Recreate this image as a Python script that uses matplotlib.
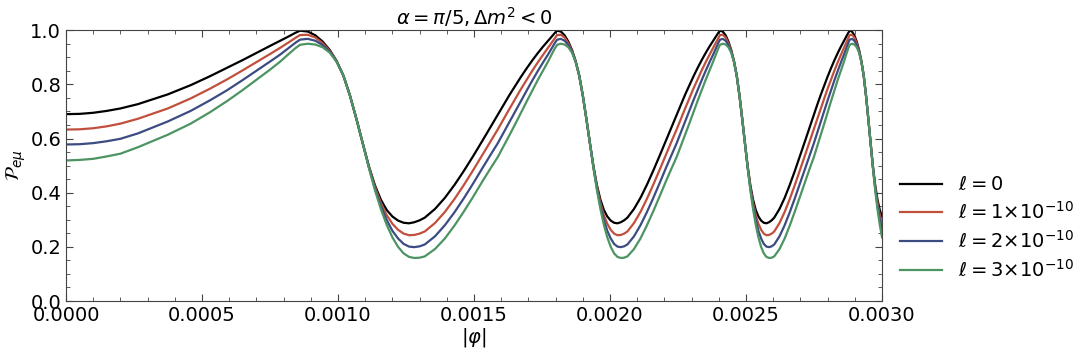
import numpy as np
import matplotlib
matplotlib.use("Agg")
import matplotlib.pyplot as plt
from matplotlib.ticker import MultipleLocator, FormatStrFormatter

# |phi| sample points, in units of 1e-4
phi = [
    0.0, 0.5, 1.0, 1.5, 2.0, 2.646, 3.742, 4.583, 5.292, 5.916, 6.481, 7.0,
    7.483, 7.874, 8.185, 8.426,
    8.602, 8.888, 9.165, 9.434, 9.695, 9.950, 10.198, 10.440, 10.677, 10.909,
    11.136, 11.358, 11.576, 11.790, 12.000, 12.207, 12.410, 12.610, 12.806, 13.000,
    13.191, 13.565, 13.928, 14.283, 14.629, 14.967, 15.297, 15.620, 15.875, 16.093,
    16.310, 16.523, 16.733, 16.941, 17.146, 17.349, 17.550, 17.720, 17.861, 17.972,
    18.055, 18.193, 18.330, 18.466, 18.601, 18.735, 18.868, 19.000, 19.131, 19.261,
    19.391, 19.519, 19.647, 19.774, 19.900, 20.025, 20.149, 20.273, 20.396, 20.518,
    20.640, 20.881, 21.119, 21.354, 21.587, 21.817, 22.045, 22.271, 22.450, 22.605,
    22.760, 22.913, 23.065, 23.216, 23.367, 23.516, 23.664, 23.791, 23.896, 23.979,
    24.042, 24.145, 24.249, 24.352, 24.454, 24.556, 24.658, 24.759, 24.860, 24.960,
    25.060, 25.159, 25.259, 25.357, 25.456, 25.554, 25.652, 25.749, 25.846, 25.942,
    26.038, 26.230, 26.420, 26.608, 26.796, 26.981, 27.166, 27.350, 27.495, 27.622,
    27.749, 27.875, 28.000, 28.125, 28.249, 28.373, 28.496, 28.601, 28.688, 28.758,
    28.810, 28.896, 28.983, 29.069, 29.155, 29.240, 29.326, 29.411, 29.496, 29.580,
    29.665, 29.749, 29.833, 29.917, 30.000,
]

p_l0 = [
    0.690, 0.691, 0.695, 0.702, 0.711, 0.727, 0.763, 0.797, 0.830, 0.861, 0.889, 0.916,
    0.941, 0.961, 0.977, 0.990,
    0.998, 0.995, 0.981, 0.958, 0.927, 0.886, 0.832, 0.758, 0.672, 0.582,
    0.497, 0.427, 0.374, 0.336, 0.312, 0.297, 0.289, 0.287, 0.291, 0.298,
    0.308, 0.340, 0.381, 0.429, 0.481, 0.535, 0.590, 0.645, 0.688, 0.726,
    0.762, 0.796, 0.829, 0.860, 0.889, 0.916, 0.941, 0.961, 0.977, 0.990,
    0.998, 0.995, 0.981, 0.958, 0.927, 0.886, 0.832, 0.758, 0.672, 0.582,
    0.497, 0.427, 0.374, 0.336, 0.312, 0.297, 0.289, 0.287, 0.291, 0.298,
    0.308, 0.340, 0.381, 0.429, 0.481, 0.535, 0.590, 0.645, 0.688, 0.726,
    0.762, 0.796, 0.829, 0.860, 0.889, 0.916, 0.941, 0.961, 0.977, 0.990,
    0.998, 0.995, 0.981, 0.958, 0.927, 0.886, 0.832, 0.758, 0.672, 0.582,
    0.497, 0.427, 0.374, 0.336, 0.312, 0.297, 0.289, 0.287, 0.291, 0.298,
    0.308, 0.340, 0.381, 0.429, 0.481, 0.535, 0.590, 0.645, 0.688, 0.726,
    0.762, 0.796, 0.829, 0.860, 0.889, 0.916, 0.941, 0.961, 0.977, 0.990,
    0.998, 0.995, 0.981, 0.958, 0.927, 0.886, 0.832, 0.758, 0.672, 0.582,
    0.497, 0.427, 0.374, 0.336, 0.312,
]

p_l1 = [
    0.633, 0.634, 0.638, 0.645, 0.655, 0.673, 0.711, 0.748, 0.784, 0.818, 0.851, 0.882,
    0.911, 0.935, 0.955, 0.971,
    0.982, 0.983, 0.973, 0.952, 0.924, 0.885, 0.832, 0.758, 0.672, 0.582,
    0.495, 0.421, 0.362, 0.317, 0.285, 0.263, 0.249, 0.243, 0.244, 0.249,
    0.257, 0.288, 0.329, 0.377, 0.429, 0.483, 0.538, 0.592, 0.634, 0.673,
    0.711, 0.748, 0.784, 0.818, 0.851, 0.882, 0.911, 0.935, 0.955, 0.971,
    0.982, 0.983, 0.973, 0.952, 0.924, 0.885, 0.832, 0.758, 0.672, 0.582,
    0.495, 0.421, 0.362, 0.317, 0.285, 0.263, 0.249, 0.243, 0.244, 0.249,
    0.257, 0.288, 0.329, 0.377, 0.429, 0.483, 0.538, 0.592, 0.634, 0.673,
    0.711, 0.748, 0.784, 0.818, 0.851, 0.882, 0.911, 0.935, 0.955, 0.971,
    0.982, 0.983, 0.973, 0.952, 0.924, 0.885, 0.832, 0.758, 0.672, 0.582,
    0.495, 0.421, 0.362, 0.317, 0.285, 0.263, 0.249, 0.243, 0.244, 0.249,
    0.257, 0.288, 0.329, 0.377, 0.429, 0.483, 0.538, 0.592, 0.634, 0.673,
    0.711, 0.748, 0.784, 0.818, 0.851, 0.882, 0.911, 0.935, 0.955, 0.971,
    0.982, 0.983, 0.973, 0.952, 0.924, 0.885, 0.832, 0.758, 0.672, 0.582,
    0.495, 0.421, 0.362, 0.317, 0.285,
]

p_l2 = [
    0.578, 0.579, 0.583, 0.590, 0.599, 0.619, 0.663, 0.702, 0.741, 0.778, 0.815, 0.850,
    0.883, 0.910, 0.934, 0.953,
    0.965, 0.968, 0.961, 0.945, 0.921, 0.884, 0.832, 0.758, 0.672, 0.582,
    0.493, 0.415, 0.351, 0.299, 0.259, 0.231, 0.211, 0.201, 0.199, 0.202,
    0.209, 0.239, 0.280, 0.328, 0.380, 0.434, 0.489, 0.542, 0.583, 0.623,
    0.663, 0.702, 0.741, 0.778, 0.815, 0.850, 0.883, 0.910, 0.934, 0.953,
    0.965, 0.968, 0.961, 0.945, 0.921, 0.884, 0.832, 0.758, 0.672, 0.582,
    0.493, 0.415, 0.351, 0.299, 0.259, 0.231, 0.211, 0.201, 0.199, 0.202,
    0.209, 0.239, 0.280, 0.328, 0.380, 0.434, 0.489, 0.542, 0.583, 0.623,
    0.663, 0.702, 0.741, 0.778, 0.815, 0.850, 0.883, 0.910, 0.934, 0.953,
    0.965, 0.968, 0.961, 0.945, 0.921, 0.884, 0.832, 0.758, 0.672, 0.582,
    0.493, 0.415, 0.351, 0.299, 0.259, 0.231, 0.211, 0.201, 0.199, 0.202,
    0.209, 0.239, 0.280, 0.328, 0.380, 0.434, 0.489, 0.542, 0.583, 0.623,
    0.663, 0.702, 0.741, 0.778, 0.815, 0.850, 0.883, 0.910, 0.934, 0.953,
    0.965, 0.968, 0.961, 0.945, 0.921, 0.884, 0.832, 0.758, 0.672, 0.582,
    0.493, 0.415, 0.351, 0.299, 0.259,
]

p_l3 = [
    0.519, 0.521, 0.525, 0.534, 0.544, 0.568, 0.614, 0.655, 0.697, 0.738, 0.778, 0.817,
    0.853, 0.884, 0.912, 0.933,
    0.946, 0.950, 0.947, 0.937, 0.917, 0.883, 0.832, 0.758, 0.672, 0.582,
    0.491, 0.409, 0.339, 0.281, 0.235, 0.200, 0.176, 0.163, 0.159, 0.160,
    0.165, 0.192, 0.231, 0.279, 0.331, 0.385, 0.440, 0.492, 0.532, 0.573,
    0.614, 0.655, 0.697, 0.738, 0.778, 0.817, 0.853, 0.884, 0.912, 0.933,
    0.946, 0.950, 0.947, 0.937, 0.917, 0.883, 0.832, 0.758, 0.672, 0.582,
    0.491, 0.409, 0.339, 0.281, 0.235, 0.200, 0.176, 0.163, 0.159, 0.160,
    0.165, 0.192, 0.231, 0.279, 0.331, 0.385, 0.440, 0.492, 0.532, 0.573,
    0.614, 0.655, 0.697, 0.738, 0.778, 0.817, 0.853, 0.884, 0.912, 0.933,
    0.946, 0.950, 0.947, 0.937, 0.917, 0.883, 0.832, 0.758, 0.672, 0.582,
    0.491, 0.409, 0.339, 0.281, 0.235, 0.200, 0.176, 0.163, 0.159, 0.160,
    0.165, 0.192, 0.231, 0.279, 0.331, 0.385, 0.440, 0.492, 0.532, 0.573,
    0.614, 0.655, 0.697, 0.738, 0.778, 0.817, 0.853, 0.884, 0.912, 0.933,
    0.946, 0.950, 0.947, 0.937, 0.917, 0.883, 0.832, 0.758, 0.672, 0.582,
    0.491, 0.409, 0.339, 0.281, 0.235,
]

labels = [
    r"$\ell = 0$",
    r"$\ell = 1{\times}10^{-10}$",
    r"$\ell = 2{\times}10^{-10}$",
    r"$\ell = 3{\times}10^{-10}$",
]
colors = ["black", "#c0503c", "#3c4c82", "#4c9462"]

fig = plt.figure(figsize=(10.86, 3.55), dpi=100)
ax = fig.add_axes([0.0608, 0.152, 0.7514, 0.763])

x = np.array(phi) * 1e-4
for ys, lab, c in zip([p_l0, p_l1, p_l2, p_l3], labels, colors):
    ax.plot(x, ys, color=c, lw=1.6, label=lab)

ax.set_xlim(0, 0.003)
ax.set_ylim(0, 1)
ax.xaxis.set_major_locator(MultipleLocator(0.0005))
ax.xaxis.set_minor_locator(MultipleLocator(0.0001))
ax.yaxis.set_major_locator(MultipleLocator(0.2))
ax.yaxis.set_minor_locator(MultipleLocator(0.05))
ax.xaxis.set_major_formatter(FormatStrFormatter("%.4f"))
ax.yaxis.set_major_formatter(FormatStrFormatter("%.1f"))
ax.tick_params(which="both", direction="in", top=True, right=True,
               labelsize=14, color="#444444")
ax.tick_params(which="major", length=5)
ax.tick_params(which="minor", length=3)
for s in ax.spines.values():
    s.set_color("#444444")

ax.set_title(r"$\alpha = \pi/5, \Delta m^2 < 0$", fontsize=14, pad=4)
ax.set_xlabel(r"$|\varphi|$", fontsize=14, labelpad=1)
ax.set_ylabel(r"$\mathcal{P}_{e\mu}$", fontsize=14, labelpad=2)
ax.legend(loc="center left", bbox_to_anchor=(1.0, 0.27), frameon=False,
          fontsize=14, handlelength=2.2, labelspacing=0.35)

fig.savefig("out.png", dpi=100)
